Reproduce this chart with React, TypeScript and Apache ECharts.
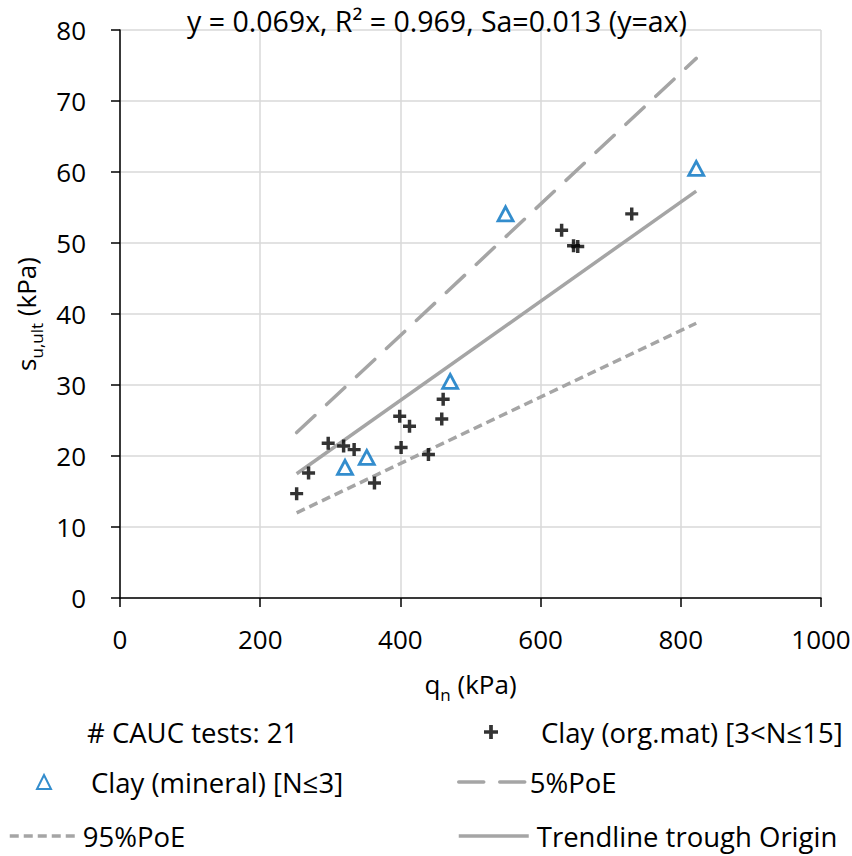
import React, { useEffect, useRef } from 'react';
import * as echarts from 'echarts';

const FONT = "'Open Sans', sans-serif";

// Data
const organicX = [252, 269, 297, 319, 334, 363, 399, 401, 413, 440, 459, 461, 630, 647, 653, 730];
const organicY = [14.7, 17.6, 21.8, 21.4, 20.9, 16.2, 25.6, 21.2, 24.2, 20.2, 25.2, 28.0, 51.8, 49.6, 49.5, 54.1];
const mineralX = [321, 352, 471, 550, 822];
const mineralY = [18.4, 19.8, 30.5, 54.1, 60.5];
const lineX = [252, 822];
const trendY = [17.5, 57.3];
const poe5Y = [23.3, 76.0];
const poe95Y = [12.0, 38.7];

const xTicks = [0, 200, 400, 600, 800, 1000];
const yTicks = [0, 10, 20, 30, 40, 50, 60, 70, 80];

const titleText = 'y = 0.069x, R² = 0.969, Sa=0.013 (y=ax)';
const nameCount = '# CAUC tests: 21';
const nameOrganic = 'Clay (org.mat) [3<N≤15]';
const nameMineral = 'Clay (mineral) [N≤3]';
const namePoe5 = '5%PoE';
const namePoe95 = '95%PoE';
const nameTrend = 'Trendline trough Origin';

const zip = (xs: number[], ys: number[]) => xs.map((x, i) => [x, ys[i]]);

const PLUS = 'path://M4.4,0H7.6V4.4H12V7.6H7.6V12H4.4V7.6H0V4.4H4.4Z';
const GREY = '#A5A5A5';
const BLUE = '#0070C0';

const legendText = (padLeft = 0) => ({
  fontFamily: FONT,
  fontSize: 27.5,
  color: '#000',
  lineHeight: 30,
  padding: [0, 0, 0, padLeft],
});

const legendBase = {
  orient: 'horizontal',
  padding: 0,
  selectedMode: false,
  itemHeight: 14,
};

const nameRich = {
  a: { fontFamily: FONT, fontSize: 26, color: '#000', lineHeight: 30, verticalAlign: 'top' },
  b: { fontFamily: FONT, fontSize: 17, color: '#000', lineHeight: 32, verticalAlign: 'bottom' },
};

export default function App() {
  const ref = useRef<HTMLDivElement>(null);
  useEffect(() => {
    const chart = echarts.init(ref.current!, null, { renderer: 'svg' });
    const option = {
      animation: false,
      backgroundColor: '#fff',
      textStyle: { fontFamily: FONT },
      title: {
        text: titleText,
        left: 432,
        top: 1,
        textAlign: 'center',
        textStyle: { fontFamily: FONT, fontSize: 28.5, fontWeight: 'normal', color: '#000' },
      },
      grid: { left: 120, right: 31, top: 30, bottom: 258, containLabel: false, outerBoundsMode: 'none' },
      xAxis: {
        type: 'value',
        min: xTicks[0],
        max: xTicks[xTicks.length - 1],
        interval: 200,
        name: '{a|q}{b|n}{a| (kPa)}',
        nameLocation: 'middle',
        nameGap: 73,
        nameTextStyle: { rich: nameRich },
        axisLine: { show: true, lineStyle: { color: '#000', width: 1.5 } },
        axisTick: { show: true, length: 9, lineStyle: { color: '#000', width: 1.5 } },
        axisLabel: { fontFamily: FONT, fontSize: 26, color: '#000', margin: 28, formatter: (v: number) => String(v) },
        splitLine: { show: true, lineStyle: { color: '#D9D9D9', width: 1.5 } },
      },
      yAxis: {
        type: 'value',
        min: yTicks[0],
        max: yTicks[yTicks.length - 1],
        interval: 10,
        name: '{a|s}{b|u,ult}{a| (kPa)}',
        nameLocation: 'middle',
        nameGap: 72,
        nameRotate: 90,
        nameTextStyle: { rich: nameRich },
        axisLine: { show: true, lineStyle: { color: '#000', width: 1.5 } },
        axisTick: { show: true, length: 9, lineStyle: { color: '#000', width: 1.5 } },
        axisLabel: { fontFamily: FONT, fontSize: 26, color: '#000', margin: 34 },
        splitLine: { show: true, lineStyle: { color: '#D9D9D9', width: 1.5 } },
      },
      legend: [
        { ...legendBase, data: [{ name: nameCount, icon: 'none' }], left: 57, top: 717, itemWidth: 25, textStyle: legendText() },
        { ...legendBase, data: [{ name: nameOrganic, icon: PLUS }], left: 484, top: 717, itemWidth: 14, textStyle: legendText(38) },
        { ...legendBase, data: [{ name: nameMineral, icon: 'triangle' }], left: 36, top: 767, itemWidth: 14, textStyle: legendText(35) },
        {
          ...legendBase, data: [namePoe5], left: 457, top: 767, itemWidth: 66, textStyle: legendText(),
          itemStyle: { opacity: 0 },
          lineStyle: { color: GREY, width: 3.5, type: [25, 16], cap: 'round' },
        },
        {
          ...legendBase, data: [namePoe95], left: 8, top: 821, itemWidth: 68, textStyle: legendText(),
          itemStyle: { opacity: 0 },
          lineStyle: { color: GREY, width: 3.5, type: [9, 5] },
        },
        {
          ...legendBase, data: [nameTrend], left: 457, top: 821, itemWidth: 70, textStyle: legendText(3),
          itemStyle: { opacity: 0 },
          lineStyle: { color: GREY, width: 3.5, type: 'solid' },
        },
      ],
      series: [
        { name: nameCount, type: 'scatter', data: [], symbol: 'none' },
        {
          name: nameTrend,
          type: 'line',
          data: zip(lineX, trendY),
          symbol: 'none',
          showSymbol: false,
          lineStyle: { color: GREY, width: 3.5 },
          itemStyle: { color: GREY },
          z: 2,
        },
        {
          name: namePoe5,
          type: 'line',
          data: zip(lineX, poe5Y),
          symbol: 'none',
          showSymbol: false,
          lineStyle: { color: GREY, width: 3.5, type: [25, 16], cap: 'round' },
          itemStyle: { color: GREY },
          z: 2,
        },
        {
          name: namePoe95,
          type: 'line',
          data: zip(lineX, poe95Y),
          symbol: 'none',
          showSymbol: false,
          lineStyle: { color: GREY, width: 3.5, type: [9, 5] },
          itemStyle: { color: GREY },
          z: 2,
        },
        {
          name: nameOrganic,
          type: 'scatter',
          data: zip(organicX, organicY),
          symbol: PLUS,
          symbolSize: 13,
          itemStyle: { color: '#000' },
          z: 3,
        },
        {
          name: nameMineral,
          type: 'scatter',
          data: zip(mineralX, mineralY),
          symbol: 'triangle',
          symbolSize: [15, 14],
          itemStyle: { color: '#fff', borderColor: BLUE, borderWidth: 2.8 },
          z: 3,
        },
      ],
    };
    chart.setOption(option as any);
    return () => chart.dispose();
  }, []);
  return (
    <div
      ref={ref}
      style={{ width: 852, height: 856, position: 'absolute', left: 0, top: 0 }}
    />
  );
}
